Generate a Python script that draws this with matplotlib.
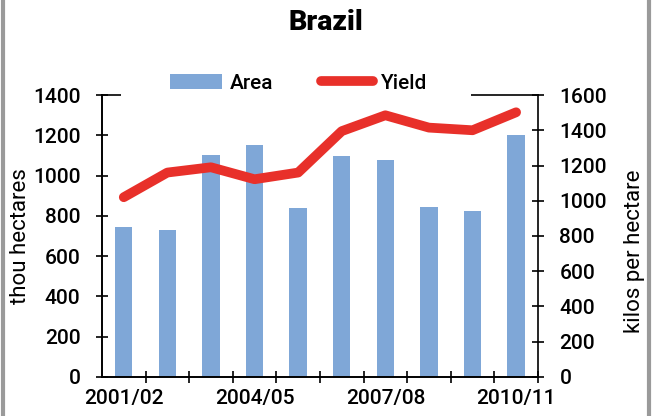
import matplotlib
matplotlib.use('Agg')
import matplotlib.pyplot as plt
from matplotlib.patches import Rectangle
from matplotlib.lines import Line2D

plt.rcParams['font.family'] = ['Roboto', 'DejaVu Sans']
plt.rcParams['font.weight'] = 'medium'

# data
seasons = ['2001/02', '2002/03', '2003/04', '2004/05', '2005/06',
           '2006/07', '2007/08', '2008/09', '2009/10', '2010/11']
area = [745, 732, 1100, 1150, 838, 1096, 1076, 842, 823, 1200]      # thou hectares
yld = [1020, 1160, 1190, 1122, 1160, 1395, 1485, 1415, 1400, 1502]  # kilos per hectare

x = list(range(len(seasons)))
shown = [0, 3, 6, 9]

fig = plt.figure(figsize=(6.52, 4.16), dpi=100)
ax = fig.add_axes([0.1564, 0.0938, 0.6686, 0.6778])
ax2 = ax.twinx()

ax.bar(x, area, width=0.4, color='#7fa7d7', label='Area', zorder=2)
ax2.plot(x, yld, color='#e8302a', lw=7, solid_capstyle='round',
         solid_joinstyle='round', label='Yield')

ax.set_xlim(-0.5, len(seasons) - 0.5)
ax.set_ylim(0, 1400)
ax2.set_ylim(0, 1600)
ax.set_yticks(range(0, 1401, 200))
ax2.set_yticks(range(0, 1601, 200))

ax.set_xticks(shown)
ax.set_xticklabels([seasons[i] for i in shown])
ax.set_xticks([i + 0.5 for i in x], minor=True)
ax.tick_params(axis='x', which='major', length=0, pad=9)
ax.tick_params(axis='x', which='minor', direction='inout', length=9, width=1.2)

fs = 15
for a in (ax, ax2):
    a.tick_params(axis='y', direction='inout', length=9, width=1.2, labelsize=fs, pad=11)
    a.tick_params(axis='x', labelsize=fs)
    for s in a.spines.values():
        s.set_linewidth(1.2)
ax.spines['top'].set_visible(False)
ax.spines['right'].set_visible(False)

ax.set_ylabel('thou hectares', fontsize=16, va='center')
ax2.set_ylabel('kilos per hectare', fontsize=16, va='center')
ax.yaxis.set_label_coords(-0.188, 0.50)
ax2.yaxis.set_label_coords(1.222, 0.445)

# white box behind the legend hides part of the top line
ax2.add_patch(Rectangle((0.044, 0.95), 0.802, 0.12, transform=ax2.transAxes,
                        facecolor='white', edgecolor='none', clip_on=False, zorder=3))

fig.text(0.5, 0.945, 'Brazil', ha='center', va='center', fontsize=20.5, fontweight='black')

handles = [ax.patches[0], ax2.lines[0]]
fig.legend(handles, ['Area', 'Yield'], loc='center', bbox_to_anchor=(0.458, 0.80),
           ncol=2, frameon=False, fontsize=fs, handlelength=2.5, handleheight=0.7,
           handletextpad=0.35, columnspacing=2.3)

# grey frame on the sides
for fx in (0.004, 0.996):
    fig.add_artist(Line2D([fx, fx], [0, 1], transform=fig.transFigure,
                          color='#9a9a9a', lw=3))

fig.savefig('out.png', dpi=100)
